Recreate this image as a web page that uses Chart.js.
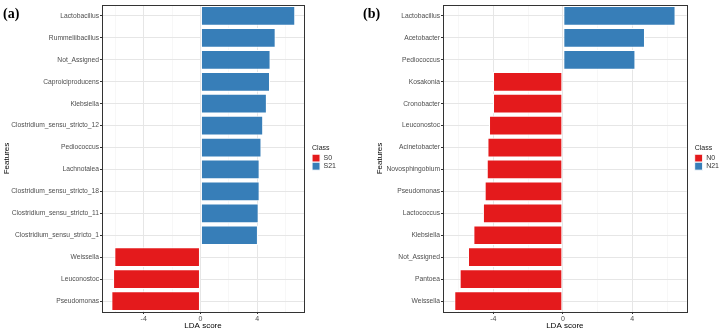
<!DOCTYPE html>
<html>
<head>
<meta charset="utf-8">
<script src="https://cdn.jsdelivr.net/npm/chart.js@4"></script>
<style>
  body { margin: 0; background: #fff; width: 727px; height: 331px; position: relative; overflow: hidden; }
  .panel { position: absolute; top: 0; height: 331px; }
  .tag { position: absolute; font-family: "Liberation Serif", serif; font-weight: bold; font-size: 14px; color: #000; }
</style>
</head>
<body>
<div class="panel" style="left:0;width:350px"><canvas id="chartA"></canvas></div>
<div class="panel" style="left:360px;width:367px"><canvas id="chartB"></canvas></div>
<div class="tag" style="left:3px;top:6px">(a)</div>
<div class="tag" style="left:363px;top:6px">(b)</div>
<script>
// panel (a)
const featuresA = ['Lactobacillus', 'Rummeliibacillus', 'Not_Assigned', 'Caproiciproducens', 'Klebsiella',
  'Clostridium_sensu_stricto_12', 'Pediococcus', 'Lachnotalea', 'Clostridium_sensu_stricto_18',
  'Clostridium_sensu_stricto_11', 'Clostridium_sensu_stricto_1', 'Weissella', 'Leuconostoc', 'Pseudomonas']
const scoresA = [6.68, 5.3, 4.94, 4.9, 4.68, 4.42, 4.3, 4.17, 4.17, 4.1, 4.05, -6.07, -6.16, -6.28]
const classesA = ['S0', 'S21']

// panel (b)
const featuresB = ['Lactobacillus', 'Acetobacter', 'Pediococcus', 'Kosakonia', 'Cronobacter', 'Leuconostoc',
  'Acinetobacter', 'Novosphingobium', 'Pseudomonas', 'Lactococcus', 'Klebsiella', 'Not_Assigned', 'Pantoea', 'Weissella']
const scoresB = [6.49, 4.73, 4.18, -4.02, -4.02, -4.25, -4.34, -4.38, -4.5, -4.6, -5.15, -5.46, -5.94, -6.25]
const classesB = ['N0', 'N21']

// x axis
const xTicks = [-6, -4, -2, 0, 2, 4, 6]
const xTickLabels = [-4, 0, 4]

const colours = ['#E41A1C', '#377EB8']
const font = 'Liberation Sans'

const drawLda = (id, features, scores, classes, xMin, xMax, yWidth, padRight, titlePad) => {
  // negative score -> first class, positive -> second
  let neg = scores.map(s => s < 0 ? s : null)
  let pos = scores.map(s => s >= 0 ? s : null)

  new Chart(document.getElementById(id), {
    type: 'bar',
    data: {
      labels: features,
      datasets: [
        { label: classes[0], data: neg, backgroundColor: colours[0] },
        { label: classes[1], data: pos, backgroundColor: colours[1] }
      ]
    },
    options: {
      indexAxis: 'y',
      responsive: true,
      maintainAspectRatio: false,
      animation: false,
      datasets: {
        bar: {
          barPercentage: 0.9,
          categoryPercentage: 1,
          borderColor: '#ffffff',
          borderWidth: 1,
          borderSkipped: false
        }
      },
      layout: { padding: { top: 4, right: padRight, bottom: 0, left: 0 } },
      scales: {
        x: {
          stacked: true,
          min: xMin,
          max: xMax,
          afterBuildTicks: scale => { scale.ticks = xTicks.map(v => ({ value: v })) },
          afterFit: scale => { scale.height = 19 },
          border: { display: true, color: '#333333', width: 1 },
          grid: {
            color: c => xTickLabels.includes(c.tick.value) ? '#e6e6e6' : '#f1f1f1',
            lineWidth: c => xTickLabels.includes(c.tick.value) ? 1 : 0.6,
            tickColor: c => xTickLabels.includes(c.tick.value) ? '#333333' : 'rgba(0,0,0,0)',
            tickLength: 2
          },
          ticks: {
            autoSkip: false,
            maxRotation: 0,
            padding: 1,
            color: '#4d4d4d',
            font: { family: font, size: 7 },
            callback: v => xTickLabels.includes(v) ? v : ''
          },
          title: { display: true, text: 'LDA score', color: '#000', padding: 0, font: { family: font, size: 8 } }
        },
        y: {
          stacked: true,
          afterFit: scale => { scale.width = yWidth },
          border: { display: true, color: '#333333', width: 1 },
          grid: { offset: false, color: '#e6e6e6', lineWidth: 1, tickColor: '#333333', tickLength: 2 },
          ticks: {
            autoSkip: false,
            padding: 1,
            color: '#4d4d4d',
            font: { family: font, size: 6.7 }
          },
          title: { display: true, text: 'Features', color: '#000', padding: { top: titlePad, bottom: 0 }, font: { family: font, size: 8 } }
        }
      },
      plugins: {
        tooltip: { enabled: false },
        legend: {
          position: 'right',
          align: 'center',
          title: { display: true, text: 'Class', position: 'start', color: '#222', padding: { top: 0, bottom: 1 }, font: { family: font, size: 7 } },
          labels: { boxWidth: 8, boxHeight: 8, padding: 0, color: '#333', font: { family: font, size: 7 } }
        }
      }
    },
    plugins: [{
      // leave a small gap between panel and legend, lift it to the panel middle
      id: 'legendNudge',
      afterUpdate: chart => {
        let l = chart.legend
        l.left += 8
        l.right += 8
        l.top -= 10
        l.bottom -= 10
      }
    }, {
      // plot panel border like ggplot's theme_bw
      id: 'panelBorder',
      afterDraw: chart => {
        let a = chart.chartArea
        let ctx = chart.ctx
        ctx.save()
        ctx.strokeStyle = '#333333'
        ctx.lineWidth = 1
        ctx.strokeRect(Math.round(a.left) + 0.5, Math.round(a.top) + 0.5, Math.round(a.right - a.left), Math.round(a.bottom - a.top))
        ctx.restore()
      }
    }]
  })
}

drawLda('chartA', featuresA, scoresA, classesA, -6.94, 7.3, 102, 12, 2)
drawLda('chartB', featuresB, scoresB, classesB, -6.9, 7.13, 83, 6, 15)
</script>
</body>
</html>
